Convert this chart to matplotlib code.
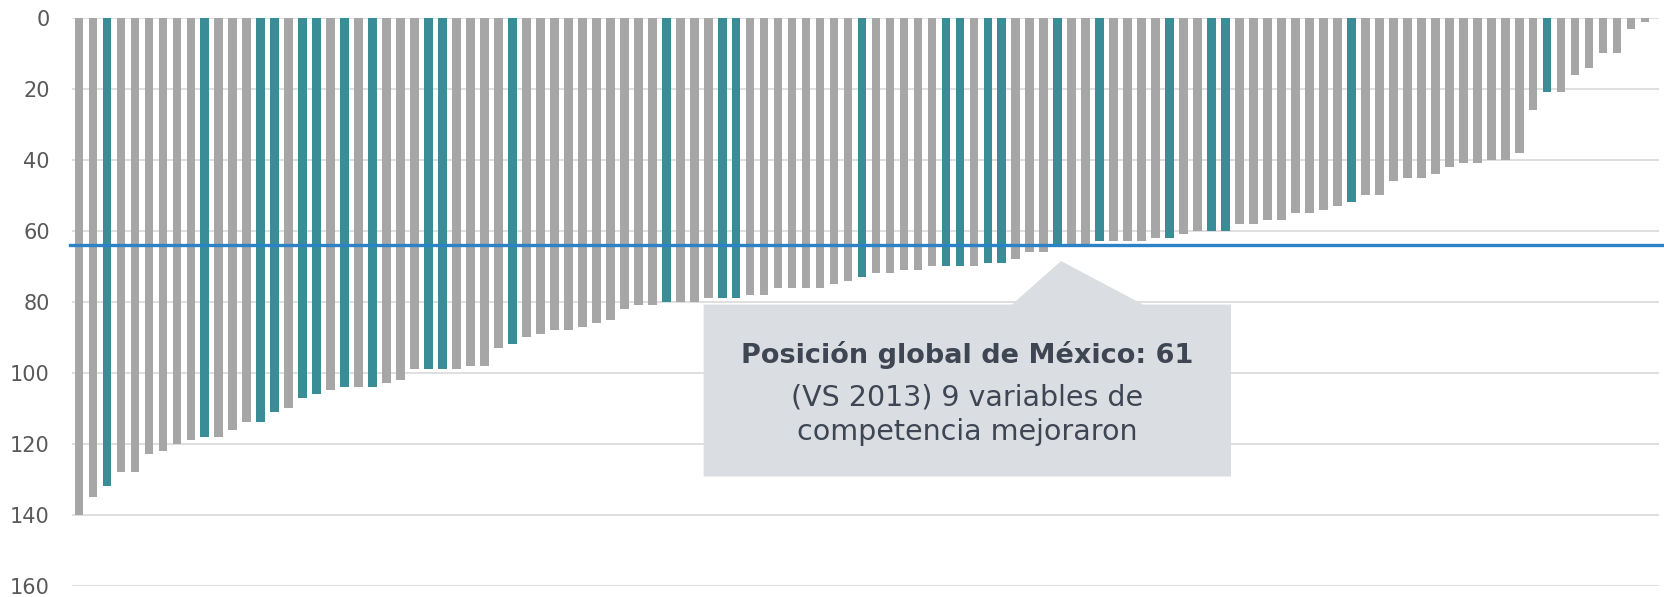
import numpy as np
import matplotlib.pyplot as plt
from matplotlib.patches import Polygon

#### Data ####
# ranking of each competitiveness variable (sorted), 113 variables
RANKS = [140, 135, 132, 128, 128, 123, 122, 120, 119, 118,
         118, 116, 114, 114, 111, 110, 107, 106, 105, 104,
         104, 104, 103, 102, 99, 99, 99, 99, 98, 98,
         93, 92, 90, 89, 88, 88, 87, 86, 85, 82,
         81, 81, 80, 80, 80, 79, 79, 79, 78, 78,
         76, 76, 76, 76, 75, 74, 73, 72, 72, 71,
         71, 70, 70, 70, 70, 69, 69, 68, 66, 66,
         64, 64, 64, 63, 63, 63, 63, 62, 62, 61,
         60, 60, 60, 58, 58, 57, 57, 55, 55, 54,
         53, 52, 50, 50, 46, 45, 45, 44, 42, 41,
         41, 40, 40, 38, 26, 21, 21, 16, 14, 10,
         10, 3, 1]
# variables that improved vs 2013 (1-based position in the list)
IMPROVED = [3, 10, 14, 15, 17, 18, 20, 22, 26, 27, 32, 43, 47, 48,
            57, 63, 64, 66, 67, 71, 74, 79, 82, 83, 92, 106]
MEXICO_LINE = 64
Y_TICKS = [0, 20, 40, 60, 80, 100, 120, 140, 160]

#### Style ####
GRAY = '#A6A6A6'
TEAL = '#3A8D96'
BLUE = '#2B83C6'
GRID = '#D9D9D9'
BOX = '#DADDE1'
TEXT = '#3E4553'
LABEL = '#595959'
FONT = 'DejaVu Sans'

plt.rcParams['font.family'] = FONT

fig = plt.figure(figsize=(16.64, 5.97), dpi=100)
ax = fig.add_axes([72/1664, 1 - 585.6/597, 1587/1664, 567.6/597])

x = np.arange(len(RANKS))
colors = [TEAL if (i + 1) in IMPROVED else GRAY for i in x]
ax.bar(x, RANKS, width=0.62, color=colors, zorder=2)

ax.axhline(MEXICO_LINE, xmin=-0.001, xmax=1.01, color=BLUE, lw=2.4,
           zorder=3, clip_on=False)

ax.set_xlim(-0.5, 113)
ax.set_ylim(160, 0)
ax.set_yticks(Y_TICKS)
ax.set_xticks([])
for t in Y_TICKS:
    ax.axhline(t, color=GRID, lw=1.2, zorder=1)
ax.tick_params(axis='y', length=0, pad=16, labelsize=15, labelcolor=LABEL)
for s in ax.spines.values():
    s.set_visible(False)

# callout box with pointer
pts = [(0.398, 0.4951), (0.5923, 0.4951), (0.6232, 0.5719),
       (0.6749, 0.4951), (0.7303, 0.4951), (0.7303, 0.1922),
       (0.398, 0.1922)]
ax.add_patch(Polygon(pts, closed=True, transform=ax.transAxes,
                     facecolor=BOX, edgecolor='none', zorder=4))
ax.text(0.564, 0.4063, 'Posición global de México: 61', transform=ax.transAxes,
        ha='center', va='center', fontsize=19.5, fontweight='bold',
        color=TEXT, zorder=5)
ax.text(0.564, 0.3312, '(VS 2013) 9 variables de', transform=ax.transAxes,
        ha='center', va='center', fontsize=20.5, color=TEXT, zorder=5)
ax.text(0.564, 0.2699, 'competencia mejoraron', transform=ax.transAxes,
        ha='center', va='center', fontsize=20.5, color=TEXT, zorder=5)

fig.savefig('out.png', dpi=100)
